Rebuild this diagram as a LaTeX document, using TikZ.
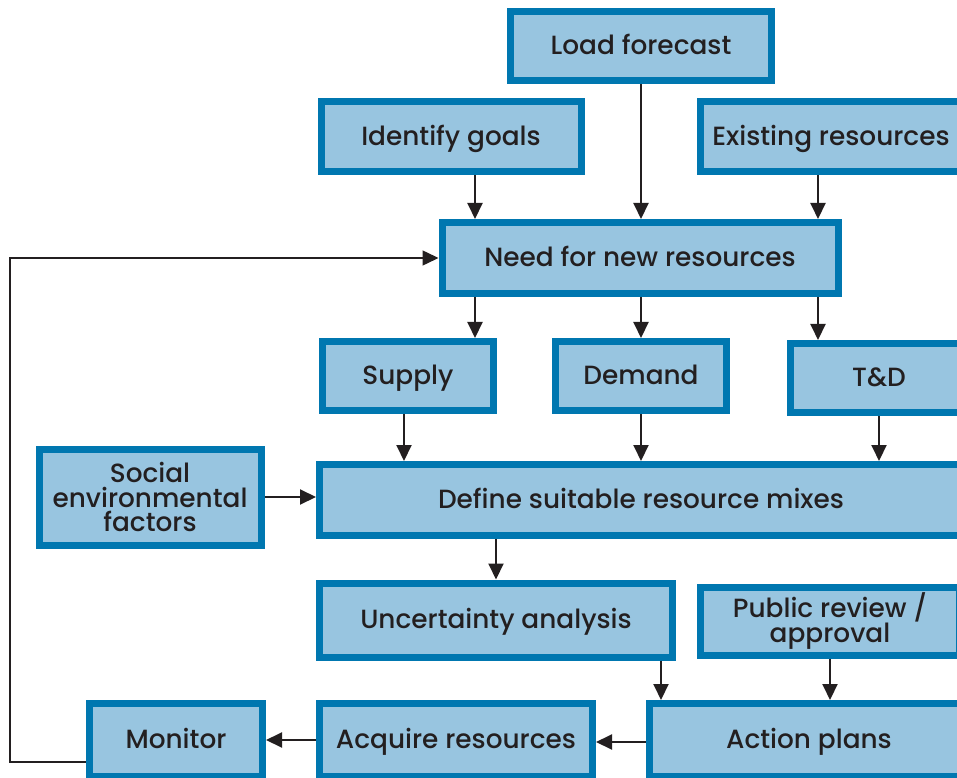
\documentclass[tikz,border=0pt]{standalone}
\usepackage{fontspec}
\setmainfont{Poppins}[UprightFont=* Medium]
\usepackage{xcolor}
\usepackage{tikz}
\usetikzlibrary{arrows.meta,positioning,calc}

\definecolor{boxedge}{HTML}{0077B0}
\definecolor{boxfill}{HTML}{98C5E0}
\definecolor{inkdark}{HTML}{231F20}

\begin{document}
\begin{tikzpicture}[
  x=0.2mm, y=-0.2mm,
  every node/.style={font=\fontsize{15}{14.2}\selectfont, text=inkdark},
  block/.style={rectangle, draw=boxedge, fill=boxfill, line width=1.4mm, align=center, inner sep=0pt},
  oneline/.style={block, text height=2ex, text depth=0.2ex},
  wd/.style={minimum width=#1*0.2mm-1.4mm},
  ht/.style={minimum height=#1*0.2mm-1.4mm},
  arrow/.style={-{Triangle[length=3.2mm, width=3mm]}, line width=0.4mm, draw=inkdark},
  loop/.style={-{Triangle[length=3.2mm, width=3mm]}, line width=0.3mm, draw=inkdark}
]
\useasboundingbox (0,0) rectangle (957,778);
\clip (0,0) rectangle (957,778);

\node[oneline, wd=268, ht=76] (load) at (641,46) {Load forecast};
\node[oneline, wd=267, ht=77] (goals) at (451,137) {Identify goals};
\node[oneline, wd=268, ht=77] (exist) at (831,137) {Existing resources};
\node[oneline, wd=403, ht=78] (need) at (640,258) {Need for new resources};
\node[oneline, wd=178, ht=76] (supply) at (408,376) {Supply};
\node[oneline, wd=178, ht=76] (demand) at (641,376) {Demand};
\node[oneline, wd=184, ht=76] (td) at (879,378) {T\&D};
\node[oneline, wd=650, ht=78] (mixes) at (641,500) {Define suitable resource mixes};
\node[block, wd=229, ht=103] (social) at (150,497) {Social\\environmental\\factors};
\node[oneline, wd=360, ht=81] (uncert) at (496,620) {Uncertainty analysis};
\node[block, wd=266, ht=75] (review) at (830,621) {Public review /\\approval};
\node[oneline, wd=180, ht=80] (monitor) at (176,740) {Monitor};
\node[oneline, wd=280, ht=80] (acquire) at (456,740) {Acquire resources};
\node[oneline, wd=326, ht=80] (action) at (809,740) {Action plans};

% inputs to need
\draw[arrow] (goals.south -| 475,0) -- (need.north -| 475,0);
\draw[arrow] (load) -- (need.north -| load);
\draw[arrow] (exist.south -| 818,0) -- (need.north -| 818,0);

% need to the three options
\draw[arrow] (need.south -| 475,0) -- (supply.north -| 475,0);
\draw[arrow] (need.south -| 641,0) -- (demand.north -| 641,0);
\draw[arrow] (need.south -| 818,0) -- (td.north -| 818,0);

% options to mixes
\draw[arrow] (supply.south -| 404,0) -- (mixes.north -| 404,0);
\draw[arrow] (demand) -- (mixes.north -| demand);
\draw[arrow] (td) -- (mixes.north -| td);
\draw[arrow] (social.east) -- (mixes.west |- social.east);

\draw[arrow] (mixes.south -| uncert) -- (uncert);
\draw[arrow] (uncert.south -| 661,0) -- (action.north -| 661,0);
\draw[arrow] (review) -- (action.north -| review);
\draw[arrow] (action.west |- 0,742) -- (acquire.east |- 0,742);
\draw[arrow] (acquire) -- (monitor);

% feedback
\draw[loop] (monitor.west |- 0,762) -- (10,762) |- (need.west);
\end{tikzpicture}
\end{document}
